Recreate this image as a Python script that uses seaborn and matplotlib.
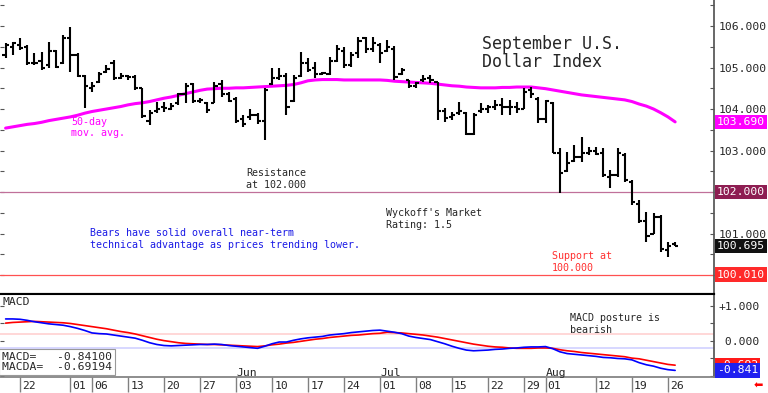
import numpy as np
import pandas as pd
import matplotlib
matplotlib.use("Agg")
import matplotlib.pyplot as plt
import matplotlib.transforms as mtransforms
from matplotlib.ticker import MultipleLocator
import seaborn as sns

# September U.S. Dollar Index, daily bars, one per weekday (Apr 18 .. Aug 27)
opens = [105.30, 105.50, 105.55, 105.50, 105.12, 105.15, 105.05, 105.40, 105.10, 105.72,
         105.30, 104.80, 104.50, 104.65, 104.90, 105.10, 104.75, 104.80, 104.78, 104.50,
         103.70, 103.95, 104.05, 104.00, 104.15, 104.35, 104.60, 104.20, 104.15, 104.15,
         104.60, 104.35, 104.25, 103.75, 103.80, 103.85, 103.70, 104.60, 104.75, 104.80,
         104.20, 104.80, 105.10, 105.00, 104.85, 104.85, 105.15, 105.40, 105.05, 105.35,
         105.70, 105.45, 105.55, 105.40, 105.45, 104.85, 104.70, 104.55, 104.70, 104.75,
         104.65, 103.95, 103.80, 103.90, 103.90, 103.40, 103.95, 104.00, 104.05, 104.10,
         104.05, 104.05, 104.00, 104.45, 104.25, 103.75, 104.15, 102.95, 102.50, 102.75,
         102.85, 102.95, 102.98, 102.95, 102.35, 102.40, 102.90, 102.25, 101.70, 101.30,
         101.00, 101.40, 100.60, 100.75]
highs = [105.59, 105.61, 105.71, 105.54, 105.35, 105.37, 105.61, 105.42, 105.78, 105.98,
         105.35, 104.82, 104.65, 104.89, 105.06, 105.18, 104.87, 104.82, 104.82, 104.50,
         103.98, 104.17, 104.17, 104.15, 104.39, 104.63, 104.63, 104.27, 104.17, 104.65,
         104.70, 104.41, 104.29, 103.86, 104.00, 103.90, 104.50, 104.99, 105.00, 104.87,
         104.82, 105.37, 105.23, 105.13, 104.89, 105.25, 105.54, 105.49, 105.37, 105.73,
         105.73, 105.73, 105.59, 105.66, 105.52, 105.00, 104.70, 104.65, 104.82, 104.82,
         104.65, 104.02, 103.93, 104.17, 103.93, 103.90, 104.14, 104.10, 104.22, 104.27,
         104.22, 104.17, 104.50, 104.53, 104.29, 104.22, 104.17, 103.06, 102.96, 103.13,
         103.33, 103.08, 103.08, 103.06, 102.53, 103.06, 102.95, 102.29, 101.81, 101.52,
         101.50, 101.45, 100.80, 100.80]
lows = [105.23, 105.30, 105.42, 105.06, 105.06, 104.94, 105.00, 104.99, 105.08, 104.89,
        104.77, 104.02, 104.41, 104.63, 104.87, 104.70, 104.72, 104.70, 104.46, 103.78,
        103.61, 103.90, 103.93, 103.98, 104.10, 104.14, 104.14, 104.14, 103.90, 104.14,
        104.29, 104.17, 103.66, 103.57, 103.73, 103.64, 103.25, 104.58, 104.70, 103.86,
        104.17, 104.77, 104.89, 104.75, 104.82, 104.82, 105.13, 104.99, 105.01, 105.23,
        105.35, 105.37, 105.10, 105.37, 104.70, 104.82, 104.50, 104.50, 104.65, 104.63,
        103.73, 103.69, 103.73, 103.86, 103.37, 103.37, 103.90, 103.90, 103.98, 103.86,
        103.86, 103.90, 104.00, 104.27, 103.66, 103.66, 102.94, 101.98, 102.48, 102.72,
        102.72, 102.89, 102.89, 102.36, 102.10, 102.36, 102.24, 101.69, 101.25, 100.80,
        100.98, 100.55, 100.43, 100.69]
closes = [105.54, 105.58, 105.48, 105.10, 105.12, 105.00, 105.40, 105.02, 105.70, 105.30,
          104.80, 104.55, 104.55, 104.85, 104.97, 104.75, 104.80, 104.76, 104.50, 103.82,
          103.90, 104.00, 104.02, 104.08, 104.35, 104.55, 104.20, 104.22, 103.98, 104.55,
          104.35, 104.20, 103.70, 103.65, 103.85, 103.70, 104.45, 104.75, 104.80, 104.05,
          104.75, 105.10, 104.95, 104.85, 104.86, 105.15, 105.45, 105.05, 105.30, 105.65,
          105.45, 105.60, 105.35, 105.50, 104.78, 104.95, 104.55, 104.62, 104.72, 104.70,
          103.95, 103.78, 103.85, 103.95, 103.40, 103.85, 104.00, 104.05, 104.10, 104.05,
          104.05, 104.00, 104.40, 104.35, 103.75, 104.20, 102.95, 102.45, 102.70, 102.85,
          102.95, 102.98, 102.92, 102.40, 102.40, 102.95, 102.30, 101.75, 101.30, 100.95,
          101.40, 100.62, 100.70, 100.695]
ma50 = [103.54, 103.57, 103.60, 103.63, 103.65, 103.68, 103.72, 103.75, 103.78, 103.81,
        103.85, 103.90, 103.94, 103.97, 104.00, 104.03, 104.06, 104.10, 104.13, 104.15,
        104.18, 104.22, 104.26, 104.29, 104.33, 104.37, 104.41, 104.45, 104.48, 104.49,
        104.50, 104.50, 104.51, 104.51, 104.52, 104.53, 104.54, 104.55, 104.56, 104.57,
        104.59, 104.63, 104.68, 104.70, 104.71, 104.71, 104.71, 104.70, 104.70, 104.70,
        104.70, 104.70, 104.70, 104.69, 104.67, 104.66, 104.65, 104.64, 104.63, 104.62,
        104.60, 104.58, 104.56, 104.55, 104.53, 104.52, 104.51, 104.51, 104.51, 104.52,
        104.52, 104.53, 104.53, 104.53, 104.51, 104.49, 104.46, 104.43, 104.40, 104.37,
        104.34, 104.32, 104.30, 104.28, 104.26, 104.24, 104.22, 104.18, 104.12, 104.07,
        104.00, 103.91, 103.81, 103.69]
macd = [0.63, 0.63, 0.62, 0.59, 0.55, 0.52, 0.49, 0.47, 0.45, 0.41,
        0.36, 0.30, 0.23, 0.21, 0.20, 0.17, 0.14, 0.11, 0.08, 0.02,
        -0.05, -0.10, -0.13, -0.14, -0.13, -0.12, -0.11, -0.10, -0.10, -0.09,
        -0.10, -0.13, -0.15, -0.17, -0.19, -0.21, -0.15, -0.08, -0.03, -0.03,
        0.02, 0.06, 0.09, 0.11, 0.13, 0.17, 0.19, 0.21, 0.24, 0.26,
        0.28, 0.30, 0.31, 0.28, 0.25, 0.21, 0.14, 0.10, 0.07, 0.04,
        -0.02, -0.08, -0.15, -0.21, -0.26, -0.28, -0.27, -0.26, -0.24, -0.23,
        -0.21, -0.20, -0.18, -0.17, -0.17, -0.16, -0.22, -0.31, -0.36, -0.38,
        -0.40, -0.42, -0.44, -0.47, -0.48, -0.50, -0.51, -0.54, -0.62, -0.68,
        -0.72, -0.78, -0.82, -0.841]
macda = [0.51, 0.53, 0.54, 0.55, 0.56, 0.55, 0.54, 0.53, 0.52, 0.50,
         0.47, 0.44, 0.41, 0.38, 0.35, 0.31, 0.27, 0.24, 0.20, 0.15,
         0.10, 0.05, 0.01, -0.02, -0.05, -0.07, -0.08, -0.09, -0.10, -0.10,
         -0.11, -0.12, -0.13, -0.14, -0.15, -0.16, -0.14, -0.11, -0.09, -0.06,
         -0.04, -0.01, 0.02, 0.05, 0.07, 0.10, 0.12, 0.14, 0.16, 0.17,
         0.19, 0.21, 0.22, 0.25, 0.24, 0.23, 0.21, 0.19, 0.17, 0.14,
         0.11, 0.07, 0.03, -0.01, -0.05, -0.09, -0.12, -0.15, -0.17, -0.18,
         -0.20, -0.21, -0.21, -0.21, -0.20, -0.20, -0.21, -0.25, -0.28, -0.30,
         -0.33, -0.35, -0.37, -0.39, -0.41, -0.43, -0.45, -0.49, -0.51, -0.55,
         -0.59, -0.63, -0.67, -0.69194]

tick_slots = [2, 9, 12, 17, 22, 27, 32, 37, 42, 47, 52, 57, 62, 67, 72, 75, 82, 87, 92]
tick_labels = ["22", "01", "06", "13", "20", "27", "03", "10", "17", "24",
               "01", "08", "15", "22", "29", "01", "12", "19", "26"]
month_slots = [32, 52, 75]
month_labels = ["Jun", "Jul", "Aug"]
price_ticks = [101, 102, 103, 104, 105, 106]
resistance = 102.000
support = 100.010

df = pd.DataFrame({"open": opens, "high": highs, "low": lows, "close": closes,
                   "ma50": ma50, "macd": macd, "macda": macda})
df["slot"] = np.arange(len(df))

sns.set_theme(style="white")
plt.rcParams["font.family"] = ["DejaVu Sans Mono", "DejaVu Sans"]
fs = 8.2

fig = plt.figure(figsize=(7.68, 3.93), dpi=100)
ax = fig.add_axes([0, 0.2519, 0.9297, 0.7481])
ax2 = fig.add_axes([0, 0.0407, 0.9297, 0.2112])
xlim = (-0.78, 98.4)

# ---- price panel
ax.axhline(resistance, color="#C0709A", lw=0.9, zorder=1)
ax.axhline(support, color="#FF5050", lw=0.9, zorder=1)
ax.vlines(df["slot"], df["low"], df["high"], color="black", lw=1.5, zorder=3)
ax.hlines(df["open"], df["slot"] - 0.45, df["slot"], color="black", lw=1.5, zorder=3)
ax.hlines(df["close"], df["slot"], df["slot"] + 0.45, color="black", lw=1.5, zorder=3)
sns.lineplot(data=df, x="slot", y="ma50", ax=ax, color="#FF00FF", lw=2.2, zorder=2)

ax.set_xlim(*xlim)
ax.set_ylim(99.542, 106.627)
ax.set_xlabel("")
ax.set_ylabel("")
ax.set_xticks([])
ax.yaxis.tick_right()
ax.set_yticks(price_ticks)
ax.set_yticklabels([f"{v:.3f}" for v in price_ticks])
ax.yaxis.set_minor_locator(MultipleLocator(0.5))
ax.tick_params(axis="y", which="both", left=True, right=True, direction="in",
               length=3, width=0.8, color="#555555", labelsize=fs, pad=3)
for side in ["top", "left"]:
    ax.spines[side].set_visible(False)
ax.spines["right"].set_linestyle((0, (2, 1)))
ax.spines["right"].set_color("#555555")
ax.spines["bottom"].set_color("black")
ax.spines["bottom"].set_linewidth(1.5)

blend = mtransforms.blended_transform_factory(ax.transAxes, ax.transData)
for val, fc in [(ma50[-1], "#FF00FF"), (resistance, "#8E1D52"),
                (closes[-1], "#111111"), (support, "#FF2A2A")]:
    ax.text(1.004, val, f"{val:.3f}", transform=blend, ha="left", va="center",
            color="white", fontsize=fs, clip_on=False,
            bbox=dict(boxstyle="square,pad=0.2", fc=fc, ec="none"))

ax.text(66.2, 105.78, "September U.S.\nDollar Index", fontsize=12, va="top",
        ha="left", linespacing=1.0)
ax.text(9.1, 103.81, "50-day\nmov. avg.", fontsize=7.2, color="#FF00FF", va="top")
ax.text(33.4, 102.58, "Resistance\nat 102.000", fontsize=7.2, va="top")
ax.text(52.8, 101.61, "Wyckoff's Market\nRating: 1.5", fontsize=7.2, va="top")
ax.text(11.7, 101.13, "Bears have solid overall near-term\n"
        "technical advantage as prices trending lower.",
        fontsize=7.2, color="#1A1AE6", va="top")
ax.text(75.9, 100.58, "Support at\n100.000", fontsize=7.2, color="#FF3030", va="top")

# ---- MACD panel
ax2.axhline(0.2, color="#FFD4D4", lw=1.3, zorder=1)
ax2.axhline(-0.2, color="#D4D4FF", lw=1.3, zorder=1)
sns.lineplot(data=df, x="slot", y="macd", ax=ax2, color="#0000FF", lw=1.2, zorder=3)
sns.lineplot(data=df, x="slot", y="macda", ax=ax2, color="#FF0000", lw=1.2, zorder=2)
ax2.set_xlim(*xlim)
ax2.set_ylim(-1.03, 1.343)
ax2.set_xlabel("")
ax2.set_ylabel("")
ax2.yaxis.tick_right()
ax2.set_yticks([1, 0])
ax2.set_yticklabels(["+1.000", " 0.000"])
ax2.yaxis.set_minor_locator(MultipleLocator(0.5))
ax2.tick_params(axis="y", which="both", left=True, right=True, direction="in",
                length=3, width=0.8, color="#555555", labelsize=fs, pad=3)
ax2.set_xticks(tick_slots)
ax2.tick_params(axis="x", bottom=True, direction="out", length=11, width=1,
                color="#808080", labelbottom=False)
ax2.spines["left"].set_visible(False)
ax2.spines["top"].set_color("black")
ax2.spines["top"].set_linewidth(1.5)
ax2.spines["bottom"].set_color("#808080")
ax2.spines["right"].set_linestyle((0, (2, 1)))
ax2.spines["right"].set_color("#555555")

# last-value flags (red one sits partly under the blue one, as in the source)
blend2 = mtransforms.blended_transform_factory(ax2.transAxes, ax2.transData)
for val, fc in [(macda[-1], "#FF1A1A"), (macd[-1], "#2020F0")]:
    ax2.text(1.004, val, f"{val:.3f}", transform=blend2, ha="left", va="center",
             color="white", fontsize=fs, clip_on=False,
             bbox=dict(boxstyle="square,pad=0.2", fc=fc, ec="none"))

ax2.text(0.004, 0.90, "MACD", transform=ax2.transAxes, fontsize=fs, va="center")
ax2.text(78.4, 0.80, "MACD posture is\nbearish", fontsize=7.2, va="top")
ax2.text(0.003, 0.06, f"MACD=   {macd[-1]:.5f}\nMACDA=  {macda[-1]:.5f}",
         transform=ax2.transAxes, fontsize=fs, va="bottom", linespacing=1.0,
         bbox=dict(boxstyle="square,pad=0.25", fc="white", ec="#999999", lw=0.8))

tblend = mtransforms.blended_transform_factory(ax2.transData, ax2.transAxes)
for s, lab in zip(month_slots, month_labels):
    ax2.text(s + 0.1, 0.05, lab, transform=tblend, fontsize=fs, va="center")
for s, lab in zip(tick_slots, tick_labels):
    ax2.text(s + 0.3, -0.105, lab, transform=tblend, fontsize=fs, va="center",
             ha="left", clip_on=False)

fig.text(0.993, 0.02, "\u2b05", color="#FF0000", fontsize=8, ha="right",
         va="center", family="DejaVu Sans")

fig.savefig("out.png", dpi=100)
